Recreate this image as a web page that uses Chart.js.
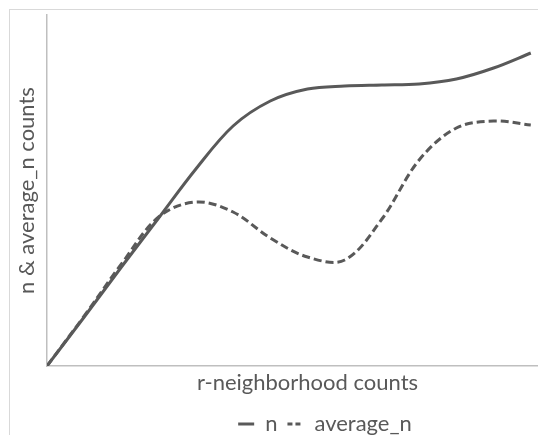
<!DOCTYPE html>
<html>
<head>
<meta charset="utf-8">
<script src="https://cdn.jsdelivr.net/npm/chart.js@4.4.1/dist/chart.umd.min.js"></script>
<style>
    html, body { margin: 0; padding: 0; background: #fff; overflow: hidden; width: 538px; height: 435px; }
    #frame {
        position: absolute; left: 9px; top: 9px;
        width: 630px; height: 435px;
        border-left: 1px solid #d9d9d9; border-top: 1px solid #d9d9d9;
    }
    #chart { display: block; }
</style>
</head>
<body>
<div id="frame"><canvas id="chart" width="630" height="435"></canvas></div>
<script>
// -----------------------------
// DATA
// -----------------------------
const categories = [0, 1, 2, 3, 4, 5, 6, 7, 8, 9, 10, 11, 12, 13];
const nValues = [0, 49, 99, 148, 197, 240, 265, 277, 280, 281, 282, 287, 298, 313];
const averageNValues = [0, 50, 102, 149, 164, 154, 128, 109, 106, 147, 206, 238, 245, 241];

const seriesNames = ["n", "average_n"];
const xTitle = "r-neighborhood counts";
const yTitle = "n & average_n counts";

const INK = "#595959";
const AXIS = "#bfbfbf";
const FONT = "Lato, 'Open Sans', sans-serif";
const FONT_SIZE = 22;

function toPoints(values) {
    return categories.map((c, i) => ({ x: c, y: values[i] }));
}

// -----------------------------
// CHART
// -----------------------------
const ctx = document.getElementById("chart").getContext("2d");

new Chart(ctx, {
    type: "line",
    data: {
        datasets: [
            {
                label: seriesNames[0],
                data: toPoints(nValues),
                borderColor: INK,
                borderWidth: 3,
                pointRadius: 0,
                tension: 0.35,
                fill: false
            },
            {
                label: seriesNames[1],
                data: toPoints(averageNValues),
                borderColor: INK,
                borderWidth: 3,
                borderDash: [8, 4],
                pointRadius: 0,
                tension: 0.35,
                fill: false
            }
        ]
    },
    options: {
        responsive: false,
        animation: false,
        layout: { padding: { top: 5, left: 0, right: 0, bottom: 0 } },
        plugins: {
            tooltip: { enabled: false },
            legend: {
                position: "bottom",
                labels: {
                    color: INK,
                    font: { family: FONT, size: FONT_SIZE },
                    usePointStyle: true,
                    pointStyle: "line",
                    pointStyleWidth: 16,
                    padding: 10,
                    generateLabels(chart) {
                        return chart.data.datasets.map((ds, i) => ({
                            text: ds.label,
                            fillStyle: INK,
                            strokeStyle: INK,
                            lineWidth: 3,
                            lineDash: ds.borderDash ? [5, 3] : [],
                            pointStyle: "line",
                            datasetIndex: i,
                            fontColor: INK
                        }));
                    }
                }
            }
        },
        scales: {
            x: {
                type: "linear",
                min: 0,
                max: 14,
                grid: { display: false, drawTicks: false },
                border: { display: true, color: AXIS, width: 1.5 },
                ticks: { display: false },
                title: {
                    display: true,
                    text: xTitle,
                    color: INK,
                    font: { family: FONT, size: FONT_SIZE },
                    padding: { top: 3.8, bottom: 6.8 }
                }
            },
            y: {
                min: 0,
                max: 351,
                grid: { display: false, drawTicks: false },
                border: { display: true, color: AXIS, width: 1.5 },
                ticks: { display: false },
                title: {
                    display: true,
                    text: yTitle,
                    color: INK,
                    font: { family: FONT, size: FONT_SIZE },
                    padding: { top: 4.2, bottom: 6.4 }
                }
            },
            // empty right-hand axis, only keeps room beyond the cropped edge
            spacer: {
                position: "right",
                grid: { display: false, drawTicks: false },
                border: { display: false },
                ticks: { display: false },
                title: { display: true, text: "", font: { size: 10 }, padding: { top: 0, bottom: 60 } }
            }
        }
    }
});
</script>
</body>
</html>
